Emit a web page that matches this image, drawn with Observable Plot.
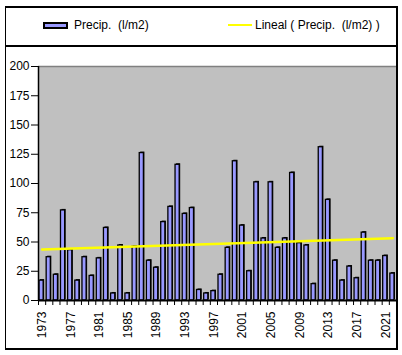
<!DOCTYPE html>
<html><head><meta charset="utf-8">
<script src="https://cdn.jsdelivr.net/npm/d3@7"></script>
<script src="https://cdn.jsdelivr.net/npm/@observablehq/plot@0.6"></script>
<style>
html,body{margin:0;padding:0;background:#fff;}
#wrap{position:relative;width:402px;height:355px;overflow:hidden;font-family:"Liberation Sans",Arial,sans-serif;font-size:12px;color:#000;}
#chart{position:absolute;left:0;top:47px;}
#frame{position:absolute;left:5px;top:6px;width:390px;height:340px;border-top:2px solid #000;border-left:1px solid #000;border-right:2px solid #000;border-bottom:2px solid #000;pointer-events:none;}
#sep{position:absolute;left:5px;top:45px;width:392px;height:2px;background:#000;}
.lg{position:absolute;white-space:pre;line-height:14px;}
#sw{position:absolute;left:43px;top:22px;width:21px;height:3px;background:#9999ff;border:2px solid #000;}
#ln{position:absolute;left:228px;top:24px;width:24px;height:2px;background:#ffff00;}
</style></head>
<body><div id="wrap">
<div id="chart"></div>
<div id="sw"></div><div class="lg" id="t1" style="left:74px;top:18px;"></div>
<div id="ln"></div><div class="lg" id="t2" style="left:255px;top:18px;"></div>
<div id="sep"></div>
<div id="frame"></div>
</div>
<script>
const years = [1973,1974,1975,1976,1977,1978,1979,1980,1981,1982,1983,1984,1985,1986,1987,1988,1989,1990,1991,1992,1993,1994,1995,1996,1997,1998,1999,2000,2001,2002,2003,2004,2005,2006,2007,2008,2009,2010,2011,2012,2013,2014,2015,2016,2017,2018,2019,2020,2021,2022];
const precip = [17,37,22,77,43,17,37,21,36,62,6,47,6,46,126,34,28,67,80,116,74,79,9,6,8,22,45,119,64,25,101,53,101,45,53,109,49,47,14,131,86,34,17,29,19,58,34,34,38,23];
const trendYears = [1973, 2022];
const trendValues = [43.6, 53.3];
const yTicks = [0,25,50,75,100,125,150,175,200];
const xLabelYears = [1973,1977,1981,1985,1989,1993,1997,2001,2005,2009,2013,2017,2021];
const seriesName = "Precip.  (l/m2)";
const trendName = "Lineal ( Precip.  (l/m2) )";

document.getElementById("t1").textContent = seriesName;
document.getElementById("t2").textContent = trendName;

const data = years.map((y, i) => ({year: y, value: precip[i]}));
const trend = trendYears.map((y, i) => ({year: y, value: trendValues[i]}));
const boundaries = d3.range(years[0] - 0.5, years[years.length - 1] + 1, 1);

const chart = Plot.plot({
  width: 402,
  height: 302,
  marginLeft: 38,
  marginRight: 6,
  marginTop: 19,
  marginBottom: 49,
  style: {fontFamily: "Liberation Sans, Arial, sans-serif", fontSize: "12px", color: "#000", background: "transparent"},
  x: {domain: [years[0] - 0.5, years[years.length - 1] + 0.5]},
  y: {domain: [0, 200]},
  marks: [
    Plot.frame({fill: "#c0c0c0", stroke: null}),
    Plot.ruleY([200], {stroke: "#808080", strokeWidth: 1.5}),
    Plot.rectY(data, {x1: d => d.year - 0.5, x2: d => d.year + 0.5, y: "value", insetLeft: 1, insetRight: 2, fill: "#000", dx: 1, dy: -1}),
    Plot.rectY(data, {x1: d => d.year - 0.5, x2: d => d.year + 0.5, y: "value", insetLeft: 1, insetRight: 2, fill: "#9999ff", stroke: "#000", strokeWidth: 1.3}),
    Plot.line(trend, {x: "year", y: "value", stroke: "#ffff00", strokeWidth: 2.5}),
    Plot.ruleY([0], {stroke: "#000", strokeWidth: 2}),
    Plot.ruleX([years[0] - 0.5], {stroke: "#000", strokeWidth: 1.5}),
    Plot.axisY({ticks: yTicks, tickSize: 7, tickPadding: 2, label: null, tickFormat: d => String(d)}),
    Plot.axisX({ticks: boundaries, tickSize: 5, tickFormat: () => "", label: null}),
    Plot.axisX({ticks: xLabelYears, tickSize: 0, tickPadding: 11, tickRotate: -90, tickFormat: d => String(d), label: null})
  ]
});
document.getElementById("chart").appendChild(chart);
</script>
</body></html>
